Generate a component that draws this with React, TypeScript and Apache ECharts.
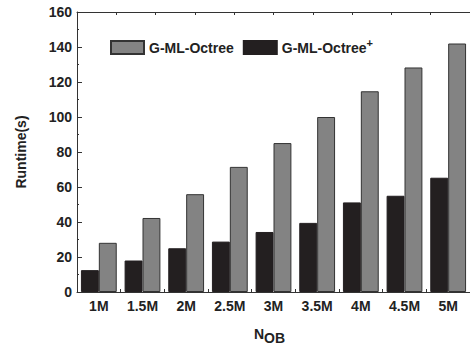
import React, { useEffect, useRef } from "react";
import * as echarts from "echarts";

const categories = ["1M", "1.5M", "2M", "2.5M", "3M", "3.5M", "4M", "4.5M", "5M"];
const octreePlus = [12.5, 18, 25, 28.8, 34.3, 39.5, 51.2, 55, 65.3];
const octree = [28.1, 42.3, 55.9, 71.5, 85.1, 100, 114.7, 128.3, 142];
const yTicks = { min: 0, max: 160, interval: 20 };

const FONT = "Liberation Sans, Arial, sans-serif";

export default function App() {
  const ref = useRef<HTMLDivElement>(null);
  useEffect(() => {
    if (!ref.current) return;
    const chart = echarts.init(ref.current, null, { renderer: "svg" });
    chart.setOption({
      animation: false,
      backgroundColor: "#ffffff",
      textStyle: { fontFamily: FONT },
      grid: { left: 77, right: -2, top: 12, bottom: 44 },
      legend: {
        left: 110,
        top: 37,
        padding: 0,
        itemWidth: 33,
        itemHeight: 13,
        itemGap: 9,
        icon: "rect",
        data: ["G-ML-Octree", "G-ML-Octree+"],
        formatter: (name: string) =>
          name === "G-ML-Octree+" ? "G-ML-Octree{sup|+}" : name,
        textStyle: {
          fontFamily: FONT,
          fontWeight: "bold",
          fontSize: 14,
          color: "#222",
          rich: {
            sup: {
              fontFamily: FONT,
              fontWeight: "bold",
              fontSize: 11,
              color: "#222",
              padding: [0, 0, 10, 0],
            },
          },
        },
      },
      xAxis: [
        {
          type: "category",
          data: categories,
          position: "bottom",
          axisLine: { show: true, lineStyle: { color: "#333", width: 1 } },
          axisTick: { show: true, inside: true, length: 3, lineStyle: { color: "#333" } },
          axisLabel: {
            fontFamily: FONT,
            fontWeight: "bold",
            fontSize: 14,
            color: "#222",
            margin: 7,
          },
          name: "N{sub|OB}",
          nameLocation: "middle",
          nameGap: 31,
          nameTextStyle: {
            fontFamily: FONT,
            fontWeight: "bold",
            fontSize: 14,
            color: "#222",
            padding: [0, 8, 0, 0],
            rich: {
              sub: {
                fontFamily: FONT,
                fontWeight: "bold",
                fontSize: 14,
                color: "#222",
                padding: [8, 0, 0, 0],
              },
            },
          },
          splitLine: { show: false },
        },
        {
          type: "value",
          position: "top",
          min: 0,
          max: 10,
          interval: 1,
          axisLine: { show: true, onZero: false, lineStyle: { color: "#333", width: 1 } },
          axisTick: { show: true, inside: true, length: 3, lineStyle: { color: "#333" } },
          axisLabel: { show: false },
          splitLine: { show: false },
        },
      ],
      yAxis: {
        type: "value",
        min: yTicks.min,
        max: yTicks.max,
        interval: yTicks.interval,
        axisLine: { show: true, lineStyle: { color: "#333", width: 1 } },
        axisTick: { show: true, inside: true, length: 5, lineStyle: { color: "#333" } },
        minorTick: { show: true, splitNumber: 2, length: 2, lineStyle: { color: "#333" } },
        axisLabel: {
          fontFamily: FONT,
          fontWeight: "bold",
          fontSize: 14,
          color: "#222",
          margin: 5,
        },
        splitLine: { show: false },
      },
      graphic: [
        {
          type: "text",
          x: 21,
          y: 152,
          rotation: Math.PI / 2,
          style: {
            text: "Runtime(s)",
            fontFamily: FONT,
            fontWeight: "bold",
            fontSize: 14,
            fill: "#222",
            align: "center",
            verticalAlign: "middle",
          },
        },
      ],
      series: [
        {
          name: "G-ML-Octree+",
          type: "bar",
          data: octreePlus,
          barGap: "0%",
          barCategoryGap: "18%",
          itemStyle: { color: "#231f20", borderColor: "#231f20", borderWidth: 1 },
        },
        {
          name: "G-ML-Octree",
          type: "bar",
          data: octree,
          barGap: "0%",
          barCategoryGap: "18%",
          itemStyle: { color: "#838383", borderColor: "#333", borderWidth: 1 },
        },
      ],
    });
    return () => chart.dispose();
  }, []);
  return <div ref={ref} style={{ width: 470, height: 350, position: "absolute", left: 0, top: 0 }} />;
}
